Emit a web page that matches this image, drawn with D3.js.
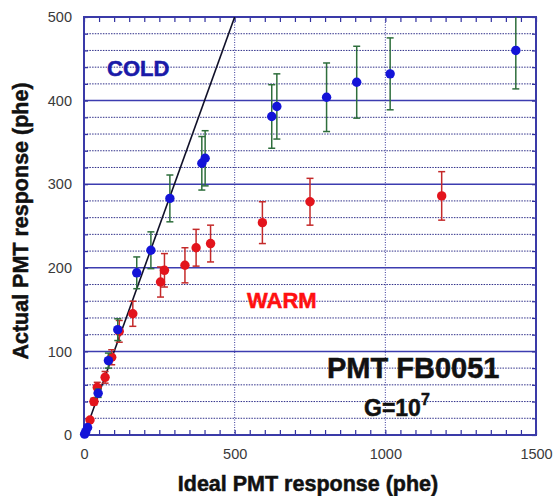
<!DOCTYPE html>
<html>
<head>
<meta charset="utf-8">
<script src="https://cdn.jsdelivr.net/npm/d3@7/dist/d3.min.js"></script>
<style>
  html, body { margin: 0; padding: 0; background: #ffffff; }
  svg { display: block; }
  text { font-family: "Liberation Sans", Arial, sans-serif; }
</style>
</head>
<body>
<svg id="chart" width="554" height="496"></svg>
<script>
// ---- data ----
const coldX   = [2, 6, 12, 47, 81, 112, 175, 222, 285, 391, 402, 623, 640, 805, 905, 1016, 1433];
const coldY   = [1, 4, 9, 50, 89, 126, 194, 221, 283, 325, 331, 381, 393, 404, 422, 432, 460];
const coldErr = [0.5, 1, 2, 5, 9, 13, 19, 22, 28, 32, 33, 38, 39, 41, 43, 43, 46];

const warmX   = [20, 33, 44, 70, 92, 117, 162, 254, 267, 335, 372, 420, 592, 750, 1187];
const warmY   = [18, 40, 57, 69, 93, 124, 145, 183, 197, 203, 224, 229, 254, 279, 286];
const warmErr = [2, 4, 6, 7, 9, 13, 15, 18, 20, 21, 22, 22, 25, 28, 29];

const idealX = [0, 500];
const idealY = [0, 500];

const xTicks = [0, 500, 1000, 1500];
const yTicks = [0, 100, 200, 300, 400, 500];

// ---- layout ----
const svg = d3.select("#chart");
const L = 84, R = 536, T = 17, B = 435;
const x = d3.scaleLinear().domain([0, 1500]).range([L, R]);
const y = d3.scaleLinear().domain([0, 500]).range([B, T]);

svg.append("rect").attr("width", 554).attr("height", 496).attr("fill", "#fff");

svg.append("clipPath").attr("id", "plotclip")
  .append("rect").attr("x", L).attr("y", T).attr("width", R - L).attr("height", B - T);

const g = svg.append("g");

// dotted minor horizontal grid (every 20)
const minorY = d3.range(20, 500, 20).filter(v => v % 100 !== 0);
g.selectAll("line.minor").data(minorY).enter().append("line")
  .attr("x1", L).attr("x2", R).attr("y1", d => y(d)).attr("y2", d => y(d))
  .attr("stroke", "#30308a").attr("stroke-width", 1).attr("stroke-dasharray", "1.5,1.2");

// solid major horizontal grid (every 100)
g.selectAll("line.major").data([100, 200, 300, 400]).enter().append("line")
  .attr("x1", L).attr("x2", R).attr("y1", d => y(d)).attr("y2", d => y(d))
  .attr("stroke", "#3c3cb0").attr("stroke-width", 1.5);

// vertical dotted grid
g.selectAll("line.vgrid").data([500, 1000]).enter().append("line")
  .attr("x1", d => x(d)).attr("x2", d => x(d)).attr("y1", T).attr("y2", B)
  .attr("stroke", "#3a3a9a").attr("stroke-width", 1).attr("stroke-dasharray", "1,1.5");

// inward ticks
const tickCol = "#3030a0";
const bottomTicks = d3.axisBottom(x).tickValues(d3.range(0, 1501, 50)).tickSize(-5).tickFormat("");
const topTicks = d3.axisTop(x).tickValues(d3.range(0, 1501, 50)).tickSize(-5).tickFormat("");
const leftTicks = d3.axisLeft(y).tickValues(d3.range(0, 501, 20)).tickSize(-4).tickFormat("");
const rightTicks = d3.axisRight(y).tickValues(d3.range(0, 501, 20)).tickSize(-4).tickFormat("");
[[bottomTicks, `translate(0,${B})`], [topTicks, `translate(0,${T})`],
 [leftTicks, `translate(${L},0)`], [rightTicks, `translate(${R},0)`]].forEach(([ax, tr]) => {
  const a = g.append("g").attr("transform", tr).call(ax);
  a.select(".domain").remove();
  a.selectAll("line").attr("stroke", tickCol).attr("stroke-width", 1.2);
});

// frame
g.append("rect").attr("x", L).attr("y", T).attr("width", R - L).attr("height", B - T)
  .attr("fill", "none").attr("stroke", "#3a3aa8").attr("stroke-width", 2);

// tick labels
const xAx = g.append("g").attr("transform", `translate(0,${B})`)
  .call(d3.axisBottom(x).tickValues(xTicks).tickSize(0).tickPadding(14).tickFormat(d3.format("d")));
xAx.select(".domain").remove();
xAx.selectAll("text").attr("font-size", 14.5).attr("fill", "#3a3a3a")
  .style("font-family", "Liberation Sans, Arial, sans-serif");

const yAx = g.append("g").attr("transform", `translate(${L},0)`)
  .call(d3.axisLeft(y).tickValues(yTicks).tickSize(0).tickPadding(12).tickFormat(d3.format("d")));
yAx.select(".domain").remove();
yAx.selectAll("text").attr("font-size", 14.5).attr("fill", "#3a3a3a")
  .style("font-family", "Liberation Sans, Arial, sans-serif");

// ideal line
g.append("line")
  .attr("x1", x(idealX[0])).attr("y1", y(idealY[0]))
  .attr("x2", x(idealX[1])).attr("y2", y(idealY[1]))
  .attr("stroke", "#101028").attr("stroke-width", 1.6)
  .attr("clip-path", "url(#plotclip)");

// error bars + points
function series(xs, ys, es, barCol, dotCol) {
  const data = xs.map((v, i) => ({ x: v, y: ys[i], e: es[i] }));
  const eb = g.append("g").attr("clip-path", "url(#plotclip)");
  const grp = eb.selectAll("g").data(data.filter(d => d.e >= 3)).enter().append("g");
  grp.append("line").attr("x1", d => x(d.x)).attr("x2", d => x(d.x))
    .attr("y1", d => y(d.y - d.e)).attr("y2", d => y(d.y + d.e))
    .attr("stroke", barCol).attr("stroke-width", 1.5);
  grp.append("line").attr("x1", d => x(d.x) - 3.5).attr("x2", d => x(d.x) + 3.5)
    .attr("y1", d => y(d.y - d.e)).attr("y2", d => y(d.y - d.e))
    .attr("stroke", barCol).attr("stroke-width", 1.5);
  grp.append("line").attr("x1", d => x(d.x) - 3.5).attr("x2", d => x(d.x) + 3.5)
    .attr("y1", d => y(d.y + d.e)).attr("y2", d => y(d.y + d.e))
    .attr("stroke", barCol).attr("stroke-width", 1.5);
  g.append("g").selectAll("circle").data(data).enter().append("circle")
    .attr("cx", d => x(d.x)).attr("cy", d => y(d.y)).attr("r", 4.7)
    .attr("fill", dotCol);
}
series(warmX, warmY, warmErr, "#c42a2a", "#e3141c");
series(coldX, coldY, coldErr, "#2e6e3c", "#1414d8");

// annotations
function boldText(sel, col) {
  return sel.attr("font-weight", "bold").attr("fill", col)
    .attr("stroke", col).attr("stroke-width", 0.5);
}
boldText(g.append("text").attr("x", 107).attr("y", 76).text("COLD")
  .attr("font-size", 22), "#1a1aa8");
boldText(g.append("text").attr("x", 247).attr("y", 308).text("WARM")
  .attr("font-size", 22), "#ff1010");
boldText(g.append("text").attr("x", 327).attr("y", 378).text("PMT FB0051")
  .attr("font-size", 29), "#111");
const gt = boldText(g.append("text").attr("x", 364).attr("y", 416)
  .attr("font-size", 23), "#111");
gt.append("tspan").text("G=10");
gt.append("tspan").text("7").attr("font-size", 16).attr("dy", -11);

// axis titles
boldText(g.append("text").attr("x", 308).attr("y", 491).attr("text-anchor", "middle")
  .text("Ideal PMT response (phe)")
  .attr("font-size", 21.5), "#111");
boldText(g.append("text").attr("transform", "translate(28,221) rotate(-90)").attr("text-anchor", "middle")
  .text("Actual PMT response (phe)")
  .attr("font-size", 21.5), "#111");
</script>
</body>
</html>
